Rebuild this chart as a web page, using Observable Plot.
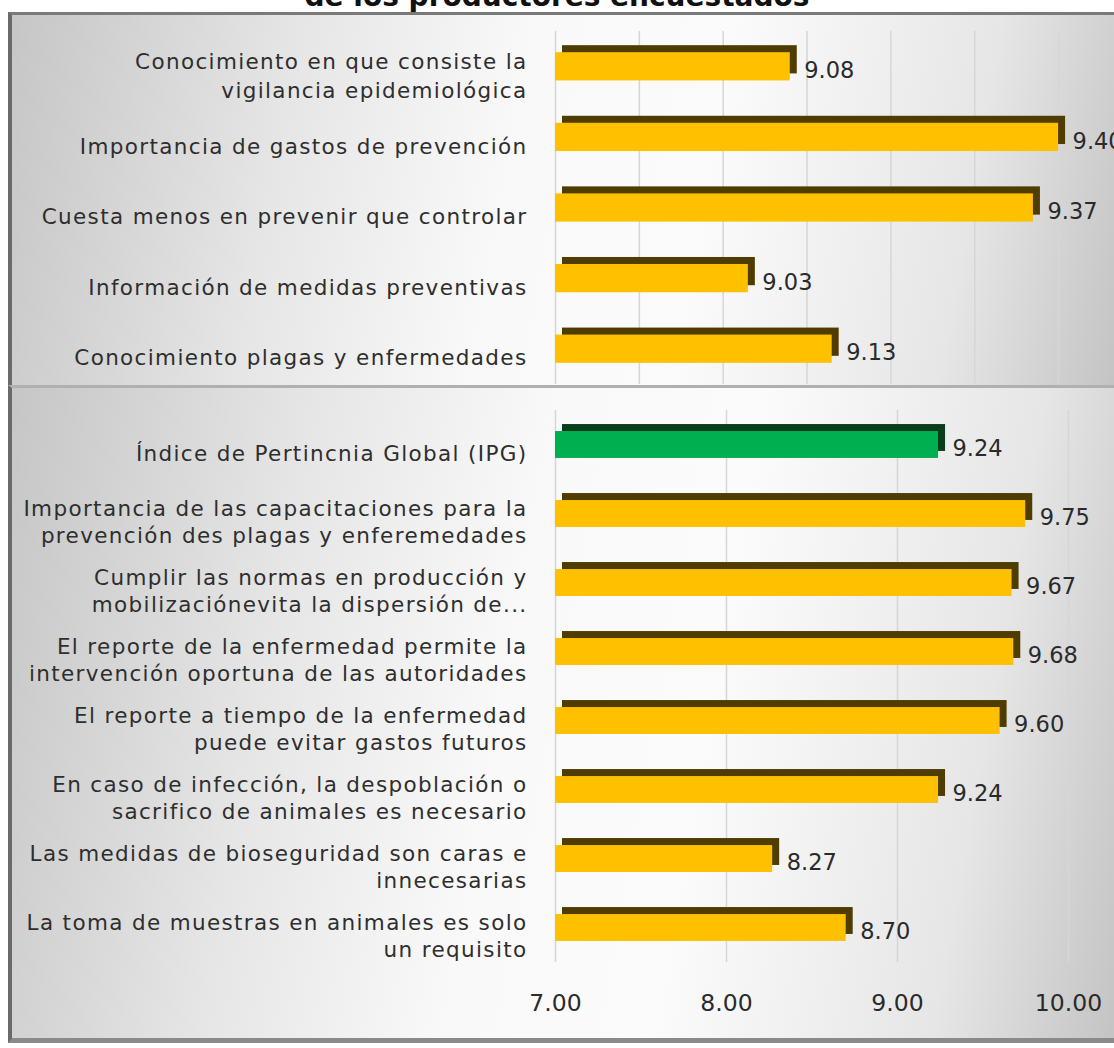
<!DOCTYPE html>
<html>
<head>
<meta charset="utf-8">
<script src="https://cdn.jsdelivr.net/npm/d3@7"></script>
<script src="https://cdn.jsdelivr.net/npm/@observablehq/plot@0.6"></script>
<style>
  html, body { margin: 0; padding: 0; background: #fff; }
  body { width: 1114px; height: 1048px; position: relative; overflow: hidden; font-family: "DejaVu Sans", sans-serif; }
  #title { position: absolute; left: 0; top: 0; width: 1114px; height: 12px; overflow: hidden; background: #fff; }
  #title div { position: absolute; left: 0; width: 1114px; top: -20px; text-align: center; font: bold 28px "DejaVu Sans", sans-serif; color: #111; }
  .panel { position: absolute; left: 8px; width: 1106px; overflow: hidden;
    background: linear-gradient(100deg, #c6c6c6 0%, #e6e6e6 25%, #f9f9f9 45%, #fbfbfb 62%, #e6e6e6 85%, #c4c4c4 100%);
    border-left: 4px solid #6a6a6a; box-sizing: border-box; }
  #top { top: 12px; height: 373px; border-top: 3px solid #7a7a7a; }
  #bottom { top: 385px; height: 658px; border-top: 3px solid #b0b0b0; border-bottom: 5px solid #8a8a8a; }
  .panel svg { position: absolute; left: -12px; top: -3px; background: transparent !important;
    max-width: none !important; height: auto; }
  .panel svg g[aria-label="y-axis tick label"] text { letter-spacing: 1.35px; }
</style>
</head>
<body>
<div id="title"><div>de los productores encuestados</div></div>
<div id="top" class="panel"></div>
<div id="bottom" class="panel"></div>
<script>
// ---- data ----
const topCategories = [
  "Conocimiento en que consiste la\nvigilancia epidemiológica",
  "Importancia de gastos de prevención",
  "Cuesta menos en prevenir que controlar",
  "Información de medidas preventivas",
  "Conocimiento plagas y enfermedades"
];
const topValues = [9.08, 9.40, 9.37, 9.03, 9.13];

const bottomCategories = [
  "Índice de Pertincnia Global (IPG)",
  "Importancia de las capacitaciones para la\nprevención des plagas y enferemedades",
  "Cumplir las normas en producción y\nmobilizaciónevita la dispersión de...",
  "El reporte de la enfermedad permite la\nintervención oportuna de las autoridades",
  "El reporte a tiempo de la enfermedad\npuede evitar gastos futuros",
  "En caso de infección, la despoblación o\nsacrifico de animales es necesario",
  "Las medidas de bioseguridad son caras e\ninnecesarias",
  "La toma de muestras en animales es solo\nun requisito"
];
const bottomValues = [9.24, 9.75, 9.67, 9.68, 9.60, 9.24, 8.27, 8.70];
const ipgLabel = "Índice de Pertincnia Global (IPG)";

const topTicks = [8.8, 8.9, 9.0, 9.1, 9.2, 9.3, 9.4];
const bottomTicks = [7, 8, 9, 10];

const topData = topCategories.map((c, i) => ({cat: c, value: topValues[i]}));
const bottomData = bottomCategories.map((c, i) => ({cat: c, value: bottomValues[i]}));

const GOLD = "#FFC000", GOLD_DARK = "#4f3c00";
const GREEN = "#00B050", GREEN_DARK = "#0a3d1a";
const fillOf = d => d.cat === ipgLabel ? GREEN : GOLD;
const darkOf = d => d.cat === ipgLabel ? GREEN_DARK : GOLD_DARK;

function chart({data, domain, x0, ticks, height, marginTop, marginBottom, marginLeft, marginRight, showXAxis, paddingInner, lineHeight}) {
  const marks = [
    Plot.ruleX(ticks, {stroke: "#d6d6d6", strokeWidth: 1.5}),
    Plot.barX(data, {y: "cat", x1: x0, x2: "value", fill: darkOf, dx: 7, dy: -7}),
    Plot.barX(data, {y: "cat", x1: x0, x2: "value", fill: fillOf}),
    Plot.text(data, {y: "cat", x: "value", text: d => d.value.toFixed(2), dx: 14, dy: 4,
      textAnchor: "start", fontSize: 22.5, fill: "#2a2a2a", fontFamily: "DejaVu Sans, sans-serif"}),
    Plot.axisY({tickSize: 0, tickPadding: 28, dy: 7, fontSize: 21.5, lineHeight, fill: "#2e2e2e",
      fontFamily: "DejaVu Sans, sans-serif", label: null})
  ];
  if (showXAxis) {
    marks.push(Plot.axisX({ticks: ticks, tickSize: 0, tickPadding: 32, fontSize: 23.5,
      tickFormat: d => d.toFixed(2), fill: "#2a2a2a", label: null, fontFamily: "DejaVu Sans, sans-serif"}));
  } else {
    marks.push(Plot.axisX({ticks: [], label: null}));
  }
  return Plot.plot({
    width: 1114, height, marginTop, marginBottom, marginLeft, marginRight,
    style: {background: "transparent", fontFamily: "DejaVu Sans, sans-serif", maxWidth: "none"},
    x: {domain},
    y: {domain: data.map(d => d.cat), paddingInner, paddingOuter: paddingInner / 2, round: false, label: null},
    marks
  });
}

document.getElementById("top").appendChild(chart({
  data: topData, domain: [8.8, 9.45], x0: 8.8, ticks: topTicks, paddingInner: 0.6, lineHeight: 1.35,
  height: 375, marginTop: 19, marginBottom: 3, marginLeft: 555, marginRight: 14, showXAxis: false
}));

document.getElementById("bottom").appendChild(chart({
  data: bottomData, domain: [7, 10], x0: 7, ticks: bottomTicks, paddingInner: 0.61, lineHeight: 1.25,
  height: 663, marginTop: 25, marginBottom: 86, marginLeft: 555, marginRight: 46, showXAxis: true
}));
</script>
</body>
</html>
